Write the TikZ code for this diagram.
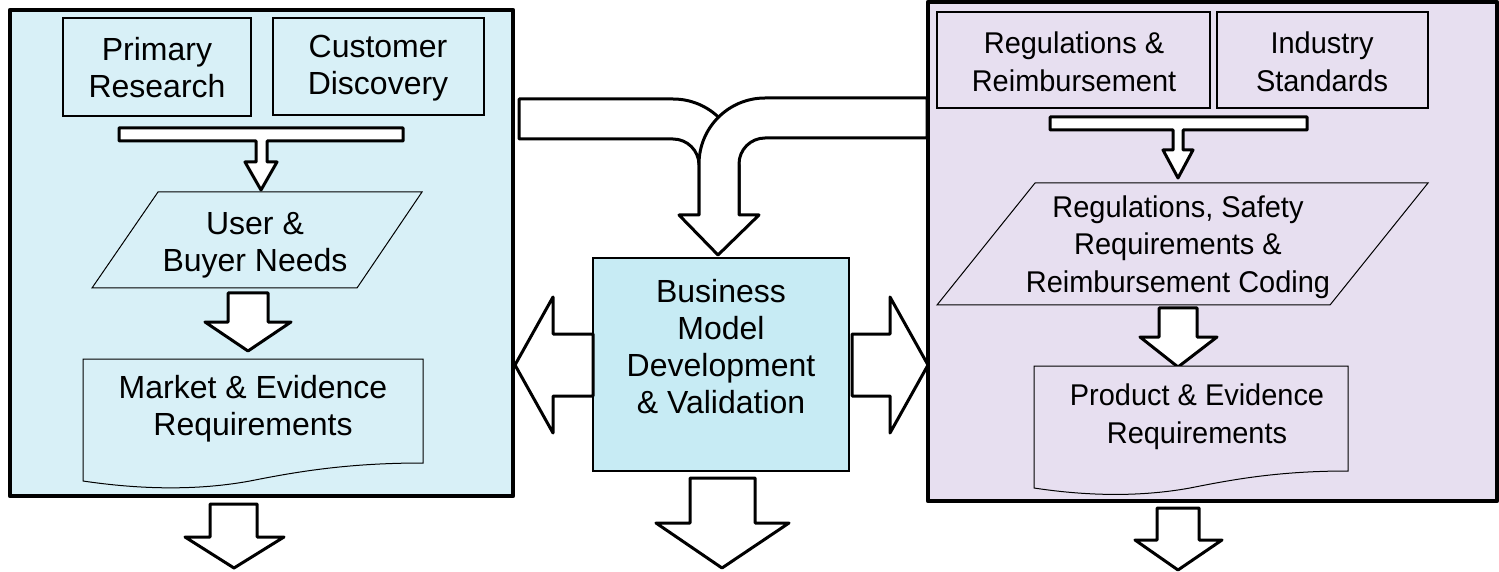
\documentclass[tikz,border=0pt]{standalone}
\usepackage{fontspec}
\setmainfont{Liberation Sans}
\newfontfamily\narrowsans[FakeStretch=0.965]{Liberation Sans}

\definecolor{panelblue}{HTML}{D8F0F7}
\definecolor{bizblue}{HTML}{C7EBF4}
\definecolor{panelviolet}{HTML}{E7DFF0}

\tikzset{every picture/.style={line width=0.75pt}}
\tikzset{
  panel/.style={line width=2.25pt, line join=round},
  smallbox/.style={line width=0.75pt},
  thinshape/.style={line width=0.5pt},
  blockarrow/.style={line width=1.5pt, line join=round, fill=white},
  label/.style={inner sep=0.75pt, align=center, font=\fontsize{16}{18.5}\selectfont},
  smalllabel/.style={label, font=\narrowsans\fontsize{15}{18.8}\selectfont}
}

\begin{document}
\begin{tikzpicture}[x=0.5pt,y=0.5pt,yscale=-1,xscale=1]
%set diagram left start at 0, and has height of 572
\useasboundingbox (0,0) rectangle (1499,572);

%Shape: Rectangle (left panel)
\draw [panel, fill=panelblue] (10,10) rectangle (513,496) ;
%Shape: Rectangle (right panel)
\draw [panel, fill=panelviolet] (928,2) rectangle (1497,501) ;

%Shape: Rectangle
\draw [smallbox] (63,18) rectangle (251,116) ;
%Shape: Rectangle
\draw [smallbox] (273,18) rectangle (484,115) ;
%Shape: Rectangle
\draw [smallbox] (937,12) rectangle (1210,108) ;
%Shape: Rectangle
\draw [smallbox] (1217,12) rectangle (1428,108) ;

%Shape: Merge Arrow (left)
\draw [blockarrow] (119,128) -- (403,128) -- (403,141) -- (267,141) -- (267,162) -- (277,162) -- (261,190) -- (245,162) -- (256,162) -- (256,141) -- (119,141) -- cycle ;
%Shape: Merge Arrow (right)
\draw [blockarrow] (1050,117) -- (1307,117) -- (1307,130) -- (1183,130) -- (1183,150) -- (1193,150) -- (1178,178) -- (1163,150) -- (1173,150) -- (1173,130) -- (1050,130) -- cycle ;

%Shape: Parallelogram
\draw [thinshape, fill=panelblue] (158,192) -- (422,192) -- (357,288) -- (92,288) -- cycle ;
%Shape: Parallelogram
\draw [thinshape, fill=panelviolet] (1035,183) -- (1428,183) -- (1330,305) -- (937,305) -- cycle ;

%Shape: Down Arrow
\draw [blockarrow] (228,293) -- (268,293) -- (268,322) -- (291,322) -- (248,351) -- (205,322) -- (228,322) -- cycle ;
%Shape: Down Arrow
\draw [blockarrow] (1159,308) -- (1197,308) -- (1197,337) -- (1217,337) -- (1178,367) -- (1140,337) -- (1159,337) -- cycle ;

%Shape: Document
\draw [thinshape, fill=panelblue] (83,359) -- (423,359) -- (423,463) .. controls (350,463) and (300,471) .. (250,481) .. controls (190,492) and (130,488) .. (83,481) -- cycle ;
%Shape: Document
\draw [thinshape, fill=panelviolet] (1034,366) -- (1348,366) -- (1348,471) .. controls (1280,471) and (1235,479) .. (1190,488) .. controls (1135,498) and (1080,495) .. (1034,488) -- cycle ;

%Shape: Curved Arrow (left branch)
\draw [blockarrow] (519,99) -- (673,99) arc [start angle=270, end angle=360, radius=66] -- (739,215) -- (699,215) -- (699,165) arc [start angle=0, end angle=-90, radius=26] -- (519,139) -- cycle ;
%Shape: Curved Arrow (right branch)
\draw [blockarrow] (927,98) -- (765,98) arc [start angle=270, end angle=180, radius=66] -- (699,215) -- (679,215) -- (718,255) -- (759,215) -- (739,215) -- (739,164) arc [start angle=180, end angle=270, radius=26] -- (927,138) -- cycle ;

%Shape: Rectangle (business model)
\draw [smallbox, fill=bizblue] (593,258) rectangle (849,471) ;

%Shape: Left Arrow
\draw [blockarrow] (593,334) -- (553,334) -- (553,297) -- (515,365) -- (553,433) -- (553,396) -- (593,396) -- cycle ;
%Shape: Right Arrow
\draw [blockarrow] (852,334) -- (890,334) -- (890,297) -- (928,365) -- (890,433) -- (890,396) -- (852,396) -- cycle ;

%Shape: Down Arrow
\draw [blockarrow] (210,504) -- (257,504) -- (257,537) -- (284,537) -- (234,568) -- (185,537) -- (210,537) -- cycle ;
%Shape: Down Arrow
\draw [blockarrow] (690,478) -- (755,478) -- (755,523) -- (789,523) -- (722,568) -- (656,523) -- (690,523) -- cycle ;
%Shape: Down Arrow
\draw [blockarrow] (1157,508) -- (1199,508) -- (1199,540) -- (1222,540) -- (1178,570) -- (1135,540) -- (1157,540) -- cycle ;

% Text Node
\draw (157,68) node (primres) [label] {Primary\\Research};
% Text Node
\draw (378,68) node (custdisc) [label] {Customer\\Discovery};
% Text Node
\draw (255,245) node (userneeds) [label] {User \&\\Buyer Needs};
% Text Node
\draw (253,409) node (marketreq) [label] {Market \& Evidence\\Requirements};
% Text Node
\draw (721,347) node (bizmodel) [label] {Business\\Model\\Development\\\& Validation};
% Text Node
\draw (1074,62) node (regreimb) [smalllabel] {Regulations \&\\Reimbursement};
% Text Node
\draw (1322,62) node (indstd) [smalllabel] {Industry\\Standards};
% Text Node
\draw (1178,247) node (regsafety) [smalllabel] {Regulations, Safety\\Requirements \&\\Reimbursement Coding};
% Text Node
\draw (1197,417) node (prodreq) [smalllabel] {Product \& Evidence\\Requirements};

\end{tikzpicture}
\end{document}
